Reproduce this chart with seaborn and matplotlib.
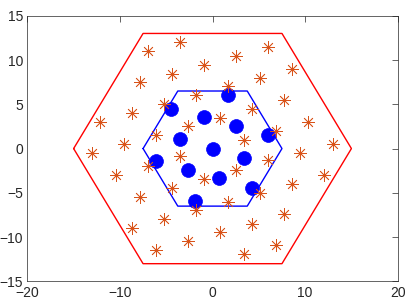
import matplotlib
matplotlib.use("Agg")
import matplotlib.pyplot as plt
import seaborn as sns

# outer (red) and inner (blue) hexagon corners, closed
outer_x = [-15, -7.5, 7.5, 15, 7.5, -7.5, -15]
outer_y = [0, 13, 13, 0, -13, -13, 0]
inner_x = [-7.5, -3.75, 3.75, 7.5, 3.75, -3.75, -7.5]
inner_y = [0, 6.5, 6.5, 0, -6.5, -6.5, 0]

# asterisk points
star_x = [-6.95, -3.53, -4.36, -0.94, -7.82, -1.80, -5.29, -8.71, -12.17, -2.63,
          -6.12, -9.58, -3.53, -13.0, 6.0, 2.52, 8.6, 5.11, 1.68, 7.73,
          4.28, 0.79, 10.32, 6.84, 3.38, 12.96, 9.43, 6.0, -7.02, -10.44,
          -0.91, -4.36, -7.82, -1.80, -5.29, -8.71, -2.63, -6.12, 2.52, 12.05,
          8.6, 5.11, 1.68, 7.73, 4.28, 0.79, 6.84, 3.38]
star_y = [10.97, 11.98, 8.46, 9.47, 7.47, 6.01, 5.03, 3.98, 2.97, 2.51,
          1.50, 0.52, -0.87, -0.53, 11.45, 10.48, 8.97, 7.96, 7.02, 5.52,
          4.51, 3.49, 3.0, 2.03, 1.01, 0.52, -0.50, -1.32, -1.96, -2.98,
          -3.43, -4.44, -5.46, -6.99, -7.97, -8.99, -10.49, -11.50, -2.45, -2.93,
          -3.95, -5.0, -6.02, -7.44, -8.5, -9.47, -10.9, -11.9]

# filled blue points
dot_x = [-4.43, 1.68, -0.94, 2.52, 6.0, -3.53, 0.0, -6.12, 3.35, -2.7, 0.68, 4.28, -1.84]
dot_y = [4.51, 6.01, 3.56, 2.55, 1.58, 1.05, 0.0, -1.43, -1.01, -2.45, -3.38, -4.44, -5.94]

sns.set_style("white")
plt.rcParams['font.family'] = ['Liberation Sans', 'DejaVu Sans']

fig = plt.figure(figsize=(4.19, 3.05), dpi=100)
ax = fig.add_axes([0.0652, 0.0774, 0.884, 0.871])

sns.lineplot(x=outer_x, y=outer_y, sort=False, estimator=None, color='#FF0000', linewidth=1.0, ax=ax)
sns.lineplot(x=inner_x, y=inner_y, sort=False, estimator=None, color='#0000FF', linewidth=1.0, ax=ax)
sns.scatterplot(x=dot_x, y=dot_y, color='#0000FF', s=100, edgecolor='#0000FF', linewidth=0.5, ax=ax, zorder=3)
sns.scatterplot(x=star_x, y=star_y, marker=(8, 2, 0), color='#D95319', s=75, linewidth=0.55, ax=ax, zorder=4)

ax.set_xlim(-20, 20)
ax.set_ylim(-15, 15)
ax.set_xticks([-20, -10, 0, 10, 20])
ax.set_yticks([-15, -10, -5, 0, 5, 10, 15])
ax.tick_params(direction='in', length=4, width=0.5, color='#262626', labelsize=10,
               labelcolor='#262626', top=True, right=True, pad=3)
for s in ax.spines.values():
    s.set_visible(True)
    s.set_color('#262626')
    s.set_linewidth(0.5)

fig.savefig('out.png', dpi=100)
